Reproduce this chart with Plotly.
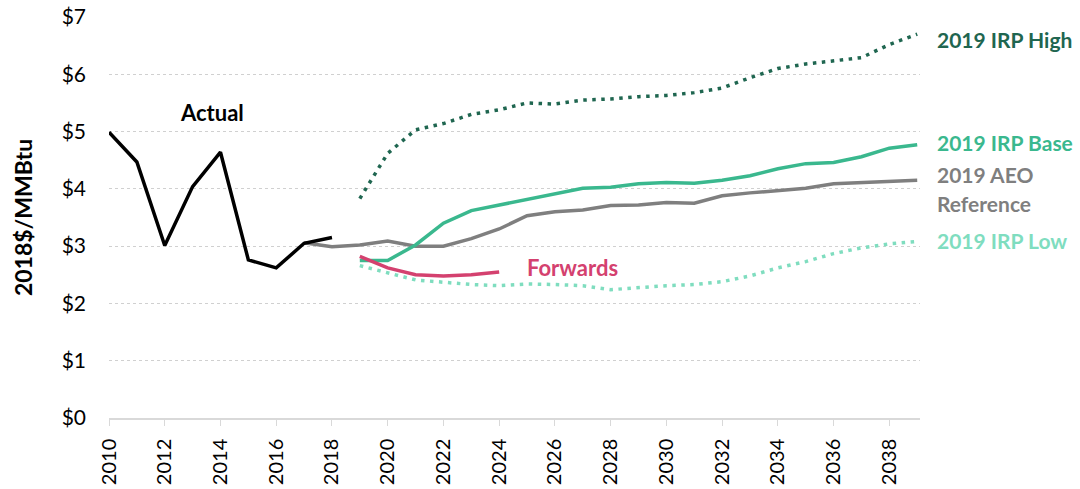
import plotly.graph_objects as go

# Gas price series, 2018$/MMBtu
actual_years = list(range(2010, 2019))
actual = [4.99, 4.47, 3.01, 4.04, 4.64, 2.76, 2.62, 3.05, 3.15]

aeo_years = list(range(2017, 2040))
aeo_ref = [3.06, 2.99, 3.02, 3.09, 3.00, 3.00, 3.13, 3.30, 3.53, 3.60, 3.63, 3.71, 3.72,
           3.76, 3.75, 3.88, 3.93, 3.97, 4.01, 4.09, 4.11, 4.12, 4.15]

irp_years = list(range(2019, 2040))
irp_base = [2.75, 2.75, 3.02, 3.40, 3.62, 3.72, 3.81, 3.92, 4.01, 4.03, 4.09, 4.11, 4.10,
            4.15, 4.23, 4.35, 4.44, 4.46, 4.56, 4.71, 4.77]
irp_high = [3.83, 4.62, 5.03, 5.14, 5.30, 5.38, 5.50, 5.48, 5.55, 5.57, 5.61, 5.63, 5.68,
            5.76, 5.94, 6.10, 6.18, 6.24, 6.29, 6.52, 6.70]
irp_low = [2.66, 2.54, 2.41, 2.37, 2.33, 2.31, 2.34, 2.33, 2.31, 2.24, 2.28, 2.31, 2.33,
           2.38, 2.48, 2.62, 2.73, 2.87, 2.97, 3.04, 3.08]

fwd_years = list(range(2019, 2025))
forwards = [2.82, 2.62, 2.50, 2.48, 2.50, 2.55]

tick_years = list(range(2010, 2039, 2))
price_ticks = list(range(0, 8))

C_HIGH = "#1f6650"
C_BASE = "#3ab88e"
C_LOW = "#7fddbf"
C_AEO = "#7f7f7f"
C_FWD = "#d4416f"
FONT = "Lato"

fig = go.Figure()
fig.add_trace(go.Scatter(x=aeo_years, y=aeo_ref, mode="lines",
                         line=dict(color=C_AEO, width=3.5)))
fig.add_trace(go.Scatter(x=irp_years, y=irp_low, mode="lines",
                         line=dict(color=C_LOW, width=3.5, dash="3.5px,5.5px")))
fig.add_trace(go.Scatter(x=irp_years, y=irp_high, mode="lines",
                         line=dict(color=C_HIGH, width=3.5, dash="3.5px,5.5px")))
fig.add_trace(go.Scatter(x=irp_years, y=irp_base, mode="lines",
                         line=dict(color=C_BASE, width=3.5)))
fig.add_trace(go.Scatter(x=fwd_years, y=forwards, mode="lines",
                         line=dict(color=C_FWD, width=3.5)))
fig.add_trace(go.Scatter(x=actual_years, y=actual, mode="lines",
                         line=dict(color="black", width=3.5)))

labels = [
    ("2019 IRP High", 6.61, C_HIGH),
    ("2019 IRP Base", 4.81, C_BASE),
    ("2019 AEO", 4.25, C_AEO),
    ("Reference", 3.74, C_AEO),
    ("2019 IRP Low", 3.09, C_LOW),
]
for text, yv, col in labels:
    fig.add_annotation(x=1.018, xref="paper", y=yv, yref="y", text="<b>%s</b>" % text,
                       showarrow=False, xanchor="left", yanchor="middle",
                       font=dict(family=FONT, size=21, color=col))

fig.add_annotation(x=2013.69, y=5.33, text="<b>Actual</b>", showarrow=False,
                   xanchor="center", yanchor="middle",
                   font=dict(family=FONT, size=22, color="black"))
fig.add_annotation(x=2024.93, y=2.62, text="<b>Forwards</b>", showarrow=False,
                   xanchor="left", yanchor="middle",
                   font=dict(family=FONT, size=22, color=C_FWD))

fig.update_layout(
    width=1080, height=489,
    margin=dict(l=109, r=160, t=17, b=71, autoexpand=False),
    plot_bgcolor="white", paper_bgcolor="white",
    showlegend=False,
    font=dict(family=FONT, size=20, color="black"),
    xaxis=dict(range=[2010, 2039.1], tickvals=tick_years, ticktext=[str(t) for t in tick_years],
               tickangle=-90, showgrid=False, zeroline=False, automargin=False,
               showline=True, linecolor="#d9d9d9", linewidth=1.5,
               ticks="outside", ticklen=6, tickcolor="#d9d9d9", ticklabelstandoff=5,
               tickfont=dict(family=FONT, size=20, color="black")),
    yaxis=dict(range=[0, 7], tickvals=price_ticks, ticktext=["$%d" % v for v in price_ticks],
               showgrid=True, gridcolor="#d0d0d0", griddash="dot", gridwidth=1,
               zeroline=False, showline=False, ticks="", ticklen=0, automargin=False,
               ticklabelstandoff=22,
               tickfont=dict(family=FONT, size=21, color="black"),
               title=dict(text="<b>2018$/MMBtu</b>", standoff=22,
                          font=dict(family=FONT, size=23, color="black"))),
)

# drop the page's default 8px body margin so the figure sits at the window corner
fig.write_html("out.html", config={"displayModeBar": False},
               post_script="document.body.style.margin='0';")
